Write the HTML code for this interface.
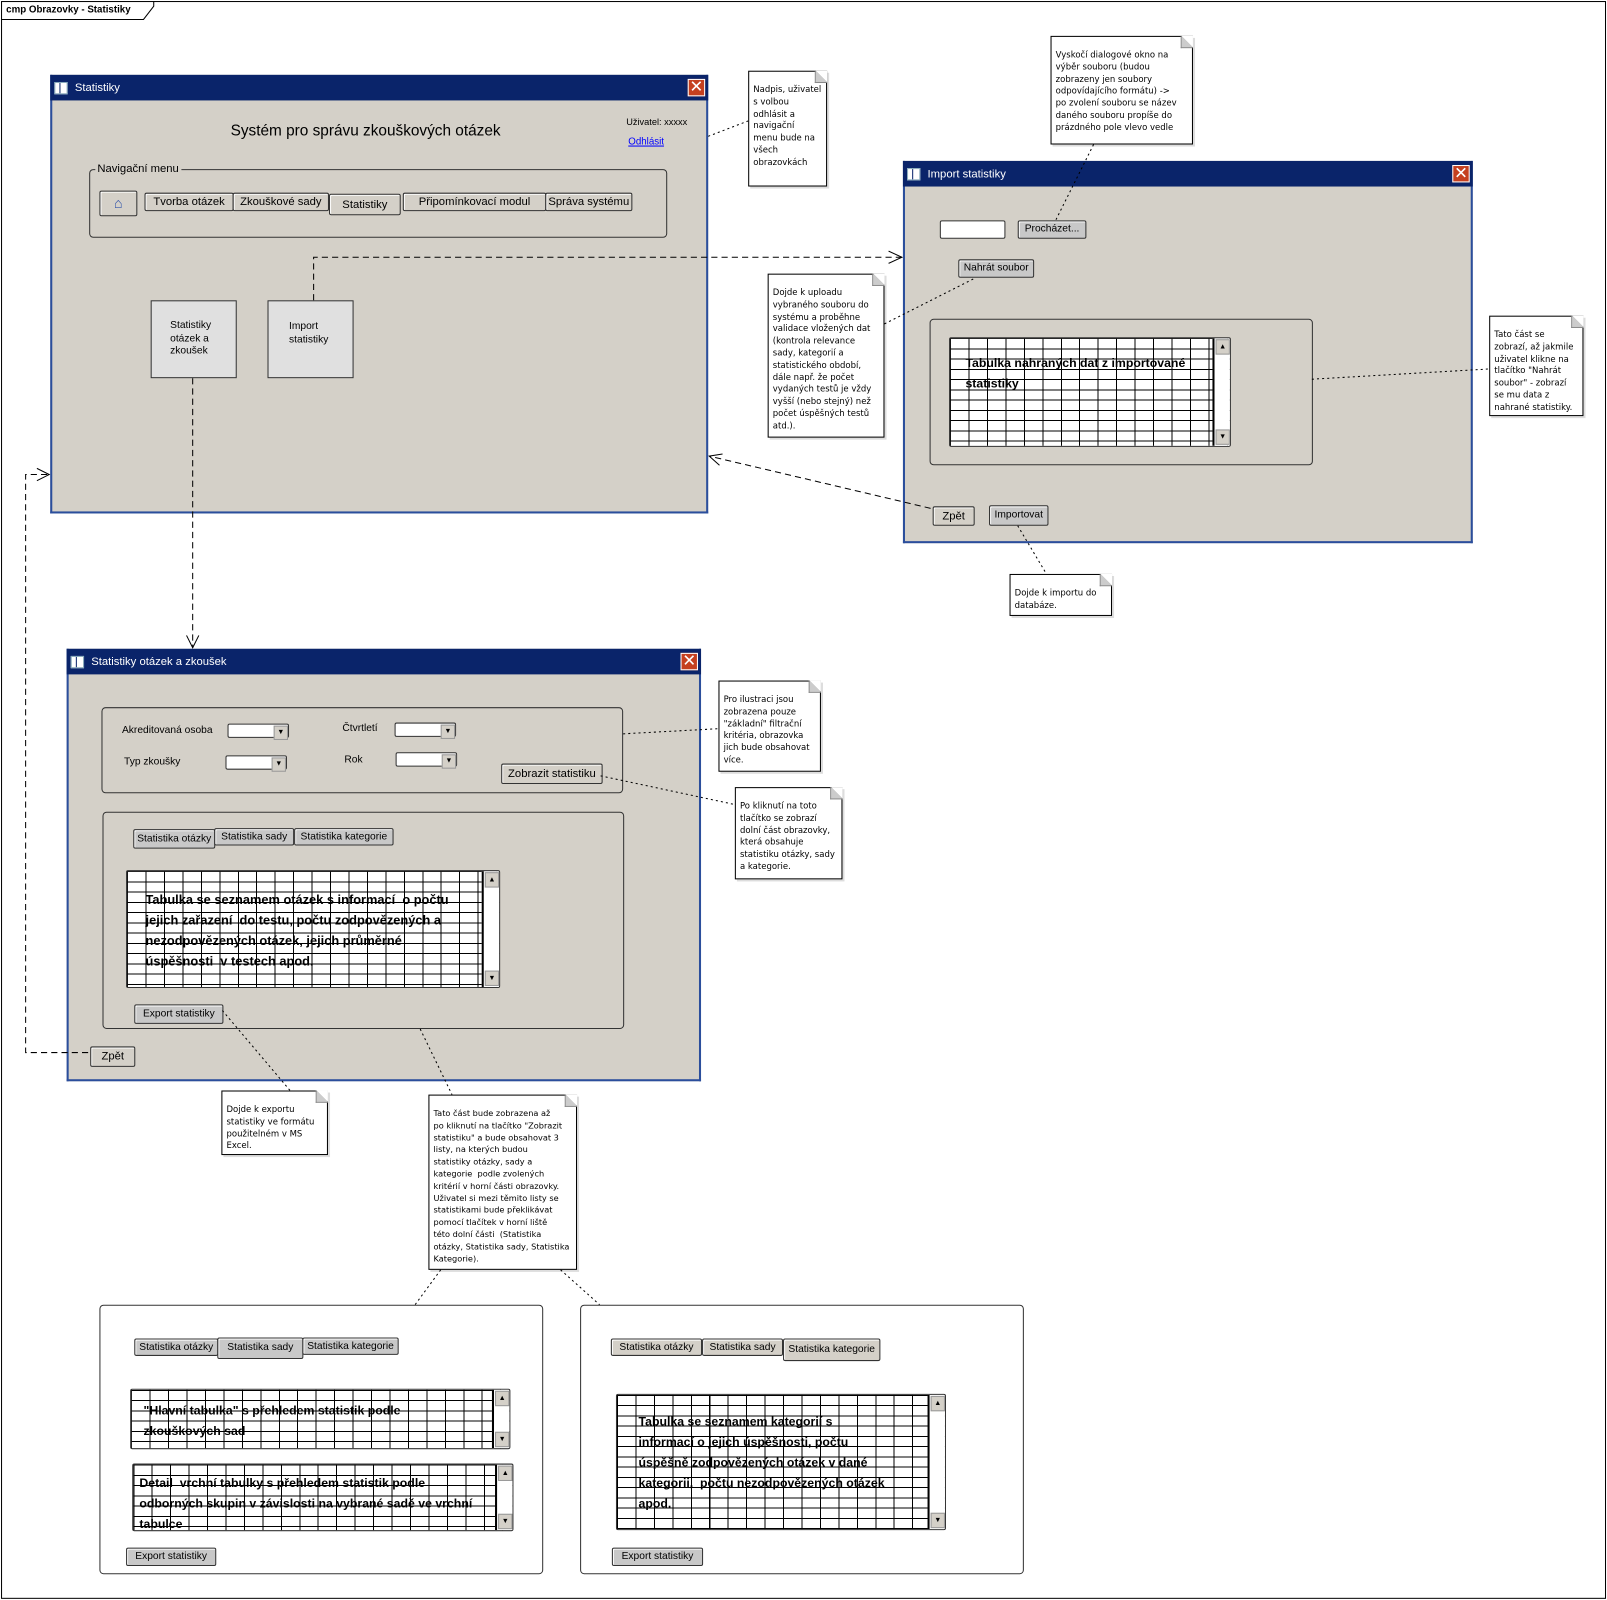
<!DOCTYPE html>
<html><head><meta charset="utf-8">
<style>
html,body{margin:0;padding:0;background:#fff;width:1607px;height:1600px;overflow:hidden}
#w{position:absolute;left:0;top:0;width:1568px;height:1561px;transform:scale(1.0249);transform-origin:0 0;font-family:"Liberation Sans","DejaVu Sans",sans-serif;color:#000}
.a{position:absolute;box-sizing:border-box}
.win{position:absolute;box-sizing:border-box;background:#d4d0c8;border:2px solid #2b4e9c;border-top:0}
.tb{position:absolute;left:-2px;right:-2px;top:0;height:25px;background:#0a246a;color:#fff;font-size:11px;line-height:27px;padding-left:24px}
.ic{position:absolute;left:4px;top:7px;width:11px;height:10px;background:#fff;border:1px solid #8ab}
.ic:after{content:"";position:absolute;left:4px;top:0;width:1px;height:10px;background:#0a246a}
.cl{position:absolute;top:4px;right:3px;width:17px;height:17px;background:#c5401f;border:1px solid #fff;box-sizing:border-box;color:#fff;font-size:16px;line-height:15px;text-align:center;font-weight:bold}
.btn{position:absolute;box-sizing:border-box;border:1px solid #333;border-radius:2px;background:#d4d0c8;font-size:10px;text-align:center;white-space:nowrap;box-shadow:inset 1px 1px 0 #fff}
.btg{background:#c8c8c8}
.grp{position:absolute;box-sizing:border-box;border:1px solid #333;border-radius:4px}
.grid{position:absolute;box-sizing:border-box;border:1px solid #333;border-radius:2px;background:repeating-linear-gradient(to right,#000 0 1px,transparent 1px 18px),repeating-linear-gradient(to bottom,#000 0 1px,transparent 1px 10px),#fff;font-weight:bold;font-size:12px;line-height:20px;overflow:hidden}
.sb{position:absolute;right:0;top:0;bottom:0;width:15px;background:#fff;border-left:2px solid #000}
.sb:before,.sb:after{position:absolute;left:1px;width:12px;height:13px;background:#d4d0c8;border:1px solid #999;font-size:7px;text-align:center;line-height:13px}
.sb:before{content:"▲";top:1px}.sb:after{content:"▼";bottom:1px}
.note{position:absolute;box-sizing:border-box;background:#fff;border:1px solid #000;font-family:"DejaVu Sans",sans-serif;font-size:8.3px;line-height:11.8px;padding:12px 3px 3px 4px;box-shadow:2px 2px 0 #ddd;white-space:nowrap}
.note:after{content:"";position:absolute;right:-1px;top:-1px;width:12px;height:12px;background:linear-gradient(to bottom left,#fff 0 50%,#ccc 50% 100%);border-left:1px solid #888;border-bottom:1px solid #888;box-sizing:border-box}
.cmb{position:absolute;box-sizing:border-box;background:#fff;border:1px solid #333;border-radius:2px;height:14px}
.cmb:after{content:"▼";position:absolute;right:0;top:1px;width:12px;height:12px;background:#d4d0c8;border:1px solid #999;font-size:7px;line-height:12px;text-align:center}
.t{position:absolute;white-space:nowrap}
.box{position:absolute;box-sizing:border-box;border:1px solid #333;background:#e0e0e0;font-size:10px;line-height:12.5px}
</style></head><body><div id="w">
<div class="a" style="left:1px;top:1px;width:1566px;height:1559px;border:1px solid #000"></div>
<svg class="a" style="left:0;top:0" width="160" height="22"><path d="M1 19 H140 L150 6 V1" fill="none" stroke="#000"/></svg>
<div class="t" style="left:6px;top:4px;font-size:9.5px;font-weight:bold">cmp Obrazovky - Statistiky</div>

<div class="win" style="left:49px;top:73px;width:642px;height:428px">
 <div class="tb"><div class="ic"></div>Statistiky<div class="cl">✕</div></div>
 <div class="t" style="left:174px;top:46px;font-size:15px">Systém pro správu zkouškových otázek</div>
 <div class="t" style="left:560px;top:41px;font-size:9px">Uživatel: xxxxx</div>
 <div class="t" style="left:562px;top:60px;font-size:9.5px;color:#00f;text-decoration:underline">Odhlásit</div>
 <div class="grp" style="left:36px;top:92px;width:564px;height:67px"></div>
 <div class="t" style="left:42px;top:86px;font-size:11px;background:#d4d0c8;padding:0 2px">Navigační menu</div>
 <div class="btn" style="left:46px;top:113px;width:37px;height:25px;font-size:14px;line-height:22px;color:#35a">⌂</div>
 <div class="btn" style="left:90px;top:115px;width:87px;height:18px;font-size:11px;line-height:16px">Tvorba otázek</div>
 <div class="btn" style="left:176px;top:115px;width:94px;height:18px;font-size:11px;line-height:16px">Zkouškové sady</div>
 <div class="btn" style="left:270px;top:116px;width:70px;height:21px;font-size:11px;line-height:20px">Statistiky</div>
 <div class="btn" style="left:342px;top:115px;width:140px;height:18px;font-size:11px;line-height:16px">Připomínkovací modul</div>
 <div class="btn" style="left:481px;top:115px;width:85px;height:18px;font-size:11px;line-height:16px">Správa systému</div>
 <div class="box" style="left:96px;top:220px;width:84px;height:76px;padding:18px 0 0 18px">Statistiky<br>otázek a<br>zkoušek</div>
 <div class="box" style="left:210px;top:220px;width:84px;height:76px;padding:19px 0 0 20px">Import<br>statistiky</div>
</div>

<div class="win" style="left:881px;top:157px;width:556px;height:373px">
 <div class="tb"><div class="ic"></div>Import statistiky<div class="cl">✕</div></div>
 <div class="a" style="left:34px;top:58px;width:64px;height:18px;background:#fff;border:1px solid #333;border-radius:2px"></div>
 <div class="btn btg" style="left:110px;top:58px;width:67px;height:18px;line-height:16px">Procházet...</div>
 <div class="btn btg" style="left:52px;top:96px;width:74px;height:18px;line-height:16px">Nahrát soubor</div>
 <div class="grp" style="left:24px;top:154px;width:374px;height:143px"></div>
 <div class="grid" style="left:43px;top:172px;width:275px;height:107px;padding:14px 20px 0 15px">Tabulka nahraných dat z importované statistiky<div class="sb"></div></div>
 <div class="btn" style="left:27px;top:337px;width:41px;height:19px;font-size:11px;line-height:18px">Zpět</div>
 <div class="btn btg" style="left:82px;top:336px;width:58px;height:20px;line-height:17px">Importovat</div>
</div>

<div class="win" style="left:65px;top:633px;width:619px;height:422px">
 <div class="tb"><div class="ic"></div>Statistiky otázek a zkoušek<div class="cl">✕</div></div>
 <div class="grp" style="left:32px;top:57px;width:509px;height:84px"></div>
 <div class="t" style="left:52px;top:74px;font-size:10px">Akreditovaná osoba</div>
 <div class="cmb" style="left:155px;top:73px;width:60px"></div>
 <div class="t" style="left:267px;top:72px;font-size:10px">Čtvrtletí</div>
 <div class="cmb" style="left:318px;top:72px;width:60px"></div>
 <div class="t" style="left:54px;top:105px;font-size:10px">Typ zkoušky</div>
 <div class="cmb" style="left:153px;top:104px;width:60px"></div>
 <div class="t" style="left:269px;top:103px;font-size:10px">Rok</div>
 <div class="cmb" style="left:319px;top:101px;width:60px"></div>
 <div class="btn" style="left:422px;top:112px;width:99px;height:20px;font-size:11px;line-height:18px">Zobrazit statistiku</div>
 <div class="grp" style="left:33px;top:159px;width:509px;height:212px"></div>
 <div class="btn btg" style="left:63px;top:176px;width:80px;height:19px;line-height:17px">Statistika otázky</div>
 <div class="btn btg" style="left:142px;top:175px;width:78px;height:17px;line-height:15px">Statistika sady</div>
 <div class="btn btg" style="left:220px;top:175px;width:97px;height:17px;line-height:15px">Statistika kategorie</div>
 <div class="grid" style="left:56px;top:216px;width:365px;height:115px;padding:18px 28px 0 18px;font-size:12.5px">Tabulka se seznamem otázek s informací&nbsp; o počtu jejich zařazení&nbsp; do testu, počtu zodpovězených a nezodpovězených otázek, jejich průměrné úspěšnosti&nbsp; v testech apod.<div class="sb"></div></div>
 <div class="btn btg" style="left:64px;top:347px;width:87px;height:19px;line-height:17px">Export statistiky</div>
 <div class="btn" style="left:21px;top:388px;width:44px;height:20px;font-size:11px;line-height:18px">Zpět</div>
</div>

<div class="a" style="left:97px;top:1273px;width:433px;height:263px;border:1px solid #333;border-radius:4px;background:#fff"></div>
<div class="btn btg" style="left:131px;top:1306px;width:82px;height:17px;line-height:15px">Statistika otázky</div>
<div class="btn btg" style="left:212px;top:1305px;width:84px;height:21px;line-height:18px">Statistika sady</div>
<div class="btn btg" style="left:295px;top:1305px;width:94px;height:17px;line-height:15px">Statistika kategorie</div>
<div class="grid" style="left:127px;top:1355px;width:371px;height:59px;padding:10px 90px 0 12px">"Hlavní tabulka" s přehledem statistik podle zkouškových sad<div class="sb"></div></div>
<div class="grid" style="left:129px;top:1428px;width:372px;height:66px;padding:8px 18px 0 6px">Detail&nbsp; vrchní tabulky s přehledem statistik podle<br>odborných skupin v závislosti na vybrané sadě ve vrchní tabulce<div class="sb"></div></div>
<div class="btn btg" style="left:123px;top:1510px;width:88px;height:18px;line-height:16px">Export statistiky</div>

<div class="a" style="left:566px;top:1273px;width:433px;height:263px;border:1px solid #333;border-radius:4px;background:#fff"></div>
<div class="btn" style="left:596px;top:1306px;width:89px;height:17px;line-height:15px">Statistika otázky</div>
<div class="btn" style="left:685px;top:1306px;width:79px;height:17px;line-height:15px">Statistika sady</div>
<div class="btn" style="left:764px;top:1306px;width:95px;height:22px;line-height:20px">Statistika kategorie</div>
<div class="grid" style="left:601px;top:1360px;width:322px;height:133px;padding:16px 40px 0 21px">Tabulka se seznamem kategorií s<br>informací o jejich úspěšnosti, počtu<br>úspěšně zodpovězených otázek v dané<br>kategorii,&nbsp; počtu nezodpovězených otázek<br>apod.<div class="sb"></div></div>
<div class="btn btg" style="left:597px;top:1510px;width:89px;height:18px;line-height:16px">Export statistiky</div>

<div class="note" style="left:730px;top:69px;width:77px;height:113px">Nadpis, uživatel<br>s volbou<br>odhlásit a<br>navigační<br>menu bude na<br>všech<br>obrazovkách</div>
<div class="note" style="left:1025px;top:35px;width:139px;height:106px">Vyskočí dialogové okno na<br>výběr souboru (budou<br>zobrazeny jen soubory<br>odpovídajícího formátu) -&gt;<br>po zvolení souboru se název<br>daného souboru propíše do<br>prázdného pole vlevo vedle</div>
<div class="note" style="left:749px;top:267px;width:114px;height:160px">Dojde k uploadu<br>vybraného souboru do<br>systému a proběhne<br>validace vložených dat<br>(kontrola relevance<br>sady, kategorií a<br>statistického období,<br>dále např. že počet<br>vydaných testů je vždy<br>vyšší (nebo stejný) než<br>počet úspěšných testů<br>atd.).</div>
<div class="note" style="left:1453px;top:308px;width:92px;height:98px">Tato část se<br>zobrazí, až jakmile<br>uživatel klikne na<br>tlačítko "Nahrát<br>soubor" - zobrazí<br>se mu data z<br>nahrané statistiky.</div>
<div class="note" style="left:985px;top:560px;width:100px;height:41px">Dojde k importu do<br>databáze.</div>
<div class="note" style="left:701px;top:664px;width:100px;height:89px">Pro ilustraci jsou<br>zobrazena pouze<br>"základní" filtrační<br>kritéria, obrazovka<br>jich bude obsahovat<br>více.</div>
<div class="note" style="left:717px;top:768px;width:105px;height:90px">Po kliknutí na toto<br>tlačítko se zobrazí<br>dolní část obrazovky,<br>která obsahuje<br>statistiku otázky, sady<br>a kategorie.</div>
<div class="note" style="left:216px;top:1064px;width:104px;height:63px">Dojde k exportu<br>statistiky ve formátu<br>použitelném v MS<br>Excel.</div>
<div class="note" style="left:418px;top:1068px;width:145px;height:171px;font-size:8px">Tato část bude zobrazena až<br>po kliknutí na tlačítko "Zobrazit<br>statistiku" a bude obsahovat 3<br>listy, na kterých budou<br>statistiky otázky, sady a<br>kategorie&nbsp; podle zvolených<br>kritérií v horní části obrazovky.<br>Uživatel si mezi těmito listy se<br>statistikami bude překlikávat<br>pomocí tlačítek v horní liště<br>této dolní části&nbsp; (Statistika<br>otázky, Statistika sady, Statistika<br>Kategorie).</div>

<svg class="a" style="left:0;top:0" width="1568" height="1561" fill="none" stroke="#000" stroke-width="1">
 <g stroke-dasharray="2,3">
  <path d="M691 133 L730 118"/>
  <path d="M1067 141 L1030 215"/>
  <path d="M863 316 L952 271"/>
  <path d="M1280 370 L1453 360"/>
  <path d="M993 513 L1021 560"/>
  <path d="M608 716 L701 711"/>
  <path d="M586 757 L717 785"/>
  <path d="M217 986 L283 1064"/>
  <path d="M410 1004 L441 1068"/>
  <path d="M430 1239 L405 1273"/>
  <path d="M547 1239 L585 1273"/>
 </g>
 <g stroke-dasharray="6,4">
  <path d="M306 293 V251 H880"/>
  <path d="M188 369 V632"/>
  <path d="M908 496 L692 445"/>
  <path d="M86 1027 H25 V463 H48"/>
 </g>
 <path d="M867 245 L880 251 L867 257"/>
 <path d="M182 620 L188 632 L194 620"/>
 <path d="M705 443 L692 445 L702 454"/>
 <path d="M36 457 L48 463 L36 469"/>
</svg>
</div></body></html>
